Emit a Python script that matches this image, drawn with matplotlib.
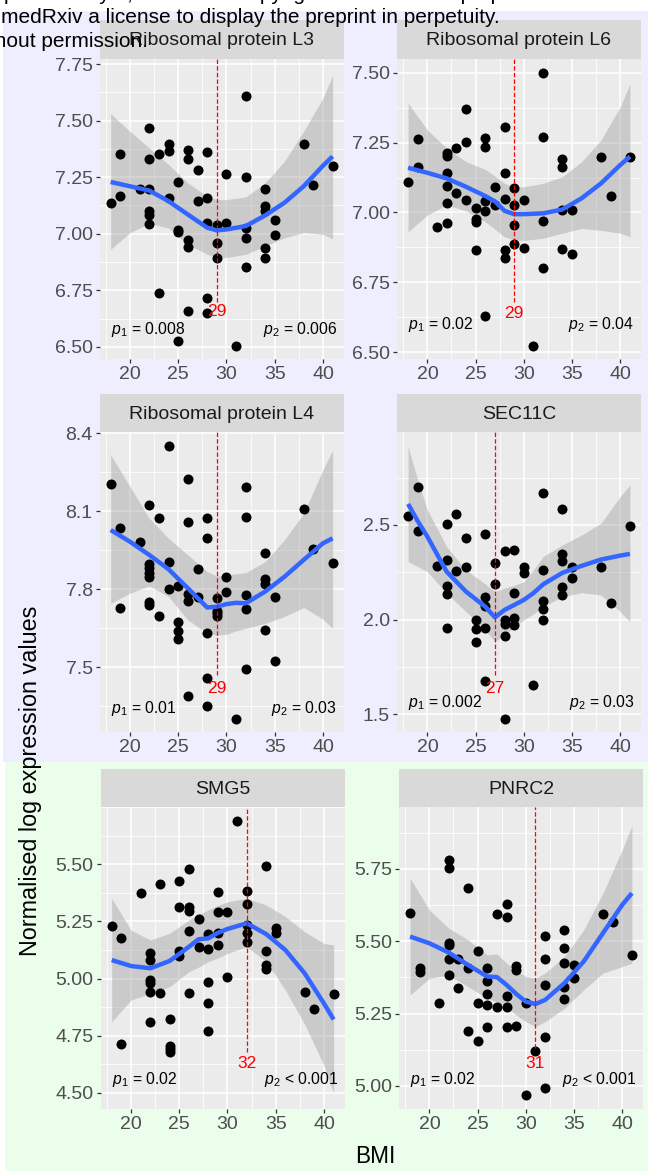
import matplotlib
matplotlib.use("Agg")
import matplotlib.pyplot as plt
from matplotlib.ticker import AutoMinorLocator
import numpy as np

plt.rcParams['font.family'] = ['Liberation Sans', 'DejaVu Sans']
plt.rcParams['mathtext.fontset'] = 'custom'
plt.rcParams['mathtext.rm'] = 'Liberation Sans'
plt.rcParams['mathtext.it'] = 'Liberation Sans:italic'

# ---- data ----
titles = ["Ribosomal protein L3", "Ribosomal protein L6", "Ribosomal protein L4",
          "SEC11C", "SMG5", "PNRC2"]

bmi_l3 = [18, 19, 19, 21, 22, 22, 22, 22, 22, 22, 23, 23, 24, 24, 24, 25, 25, 25, 25, 26, 26, 26, 26, 26,
          27, 27, 28, 28, 28, 28, 28, 29, 29, 29, 30, 30, 31, 32, 32, 32, 32, 32, 34, 34, 34, 34, 34,
          35, 35, 38, 39, 41]
expr_l3 = [7.134, 7.354, 7.166, 7.196, 7.468, 7.331, 7.199, 7.100, 7.085, 7.043, 7.354, 6.737, 7.397,
           7.365, 7.159, 7.229, 7.016, 7.009, 6.526, 7.372, 7.331, 6.972, 6.943, 6.660, 7.281, 7.144,
           7.360, 7.159, 7.046, 6.716, 6.651, 7.040, 6.957, 6.893, 7.266, 7.049, 6.504, 7.610, 7.251,
           7.024, 6.982, 6.854, 7.200, 7.122, 7.100, 6.938, 6.891, 7.063, 6.993, 7.396, 7.215, 7.299]

bmi_l6 = [18, 19, 19, 21, 22, 22, 22, 22, 22, 22, 23, 23, 24, 24, 24, 25, 25, 25, 25, 26, 26, 26, 26, 26,
          27, 27, 28, 28, 28, 28, 28, 29, 29, 29, 29, 30, 30, 31, 32, 32, 32, 32, 34, 34, 34, 34,
          35, 35, 38, 39, 41]
expr_l6 = [7.108, 7.263, 7.164, 6.949, 7.212, 7.202, 7.142, 7.096, 7.033, 6.961, 7.229, 7.069, 7.370,
           7.251, 7.045, 7.015, 6.976, 6.965, 6.866, 7.268, 7.235, 7.041, 7.007, 6.631, 7.090, 7.027,
           7.307, 7.140, 7.048, 6.866, 6.836, 7.086, 7.027, 6.955, 6.886, 7.045, 6.872, 6.523, 7.500,
           7.269, 6.971, 6.800, 7.190, 7.164, 7.009, 6.868, 7.009, 6.852, 7.197, 7.060, 7.197]

bmi_l4 = [18, 19, 19, 21, 22, 22, 22, 22, 22, 22, 22, 23, 23, 24, 24, 24, 25, 25, 25, 25, 26, 26, 26, 26,
          26, 27, 27, 28, 28, 28, 28, 28, 29, 29, 29, 29, 30, 30, 31, 32, 32, 32, 32, 32, 34, 34, 34,
          34, 35, 35, 38, 39, 41]
expr_l4 = [8.205, 8.035, 7.727, 7.981, 8.124, 7.896, 7.881, 7.864, 7.849, 7.750, 7.740, 8.076, 7.699,
           8.351, 7.906, 7.801, 7.814, 7.673, 7.641, 7.609, 8.223, 8.058, 7.782, 7.753, 7.390, 7.877,
           7.769, 8.076, 7.996, 7.631, 7.460, 7.351, 7.765, 7.718, 7.708, 7.699, 7.849, 7.791, 7.300,
           8.192, 8.077, 7.778, 7.726, 7.494, 7.938, 7.838, 7.821, 7.644, 7.769, 7.526, 8.110, 7.954,
           7.903]

bmi_sec = [18, 19, 19, 21, 22, 22, 22, 22, 22, 23, 23, 24, 24, 25, 25, 25, 26, 26, 26, 26, 26, 27, 27,
           28, 28, 28, 28, 28, 29, 29, 29, 29, 30, 30, 31, 32, 32, 32, 32, 32, 34, 34, 34, 34, 34,
           35, 35, 38, 39, 41]
expr_sec = [2.549, 2.699, 2.470, 2.283, 2.504, 2.315, 2.180, 2.136, 1.954, 2.558, 2.254, 2.430, 2.276,
            2.000, 1.949, 1.879, 2.451, 2.118, 2.074, 1.954, 1.673, 2.301, 2.187, 2.363, 1.996, 1.975,
            1.914, 1.474, 2.368, 2.143, 2.007, 1.972, 2.276, 2.245, 1.655, 2.671, 2.262, 2.100, 2.055,
            2.000, 2.586, 2.347, 2.310, 2.174, 2.130, 2.280, 2.218, 2.280, 2.090, 2.496]

bmi_smg = [18, 19, 19, 21, 22, 22, 22, 22, 22, 22, 23, 23, 24, 24, 24, 24, 25, 25, 25, 25, 26, 26, 26,
           26, 26, 27, 27, 28, 28, 28, 28, 28, 29, 29, 29, 29, 30, 30, 31, 32, 32, 32, 32, 32, 34, 34,
           34, 34, 35, 35, 38, 39, 41]
expr_smg = [5.231, 5.176, 4.713, 5.373, 5.113, 5.081, 4.993, 4.979, 4.942, 4.808, 5.412, 4.935, 4.821,
            4.704, 4.691, 4.680, 5.427, 5.315, 5.120, 5.099, 5.480, 5.315, 5.296, 5.208, 4.935, 5.259,
            5.136, 5.193, 5.129, 4.985, 4.894, 4.772, 5.380, 5.293, 5.201, 5.147, 5.293, 5.008, 5.690,
            5.383, 5.325, 5.234, 5.198, 5.161, 5.494, 5.120, 5.059, 5.042, 5.220, 5.201, 4.942, 4.866,
            4.932]

bmi_pn = [18, 19, 19, 21, 22, 22, 22, 22, 22, 22, 23, 23, 24, 24, 24, 25, 25, 25, 26, 26, 26, 26, 26,
          27, 27, 28, 28, 28, 28, 28, 29, 29, 29, 30, 30, 31, 32, 32, 32, 32, 32, 34, 34, 34, 34, 34,
          35, 35, 38, 39, 41]
expr_pn = [5.599, 5.407, 5.395, 5.288, 5.781, 5.752, 5.493, 5.487, 5.438, 5.384, 5.438, 5.340, 5.683,
           5.407, 5.191, 5.465, 5.288, 5.156, 5.407, 5.364, 5.318, 5.278, 5.202, 5.593, 5.271, 5.629,
           5.583, 5.309, 5.271, 5.205, 5.416, 5.399, 5.207, 5.288, 4.969, 5.121, 5.518, 5.438, 5.349,
           5.168, 4.992, 5.539, 5.476, 5.424, 5.341, 5.300, 5.418, 5.372, 5.593, 5.566, 5.453]

# smoothed fit with confidence band (read at a few BMI values)
sx_l3 = [18, 20, 22, 24, 26, 28, 29, 30, 32, 34, 36, 38, 40, 41]
fit_l3 = [7.229, 7.210, 7.191, 7.144, 7.085, 7.027, 7.015, 7.019, 7.034, 7.081, 7.137, 7.210, 7.301, 7.342]
hi_l3 = [7.531, 7.453, 7.379, 7.306, 7.225, 7.166, 7.151, 7.151, 7.163, 7.225, 7.320, 7.453, 7.600, 7.700]
lo_l3 = [6.931, 7.005, 7.046, 7.025, 6.953, 6.909, 6.895, 6.895, 6.909, 6.946, 6.982, 7.005, 6.997, 6.978]

sx_l6 = [18, 20, 22, 24, 26, 27, 28, 29, 30, 32, 34, 36, 38, 40, 41]
fit_l6 = [7.160, 7.142, 7.122, 7.092, 7.059, 7.040, 7.006, 6.994, 6.994, 6.997, 7.011, 7.051, 7.104, 7.170, 7.200]
hi_l6 = [7.391, 7.295, 7.230, 7.182, 7.154, 7.130, 7.104, 7.092, 7.092, 7.104, 7.128, 7.182, 7.259, 7.378, 7.460]
lo_l6 = [6.931, 6.991, 7.027, 7.006, 6.967, 6.940, 6.913, 6.902, 6.900, 6.908, 6.926, 6.943, 6.936, 6.926, 6.913]

sx_l4 = [18, 20, 22, 24, 26, 28, 29, 30, 31, 32, 34, 36, 38, 40, 41]
fit_l4 = [8.028, 7.983, 7.932, 7.877, 7.804, 7.730, 7.733, 7.743, 7.748, 7.746, 7.791, 7.848, 7.913, 7.977, 7.996]
hi_l4 = [8.317, 8.195, 8.073, 7.996, 7.932, 7.868, 7.851, 7.855, 7.860, 7.864, 7.906, 7.990, 8.092, 8.259, 8.336]
lo_l4 = [7.746, 7.785, 7.813, 7.772, 7.682, 7.631, 7.624, 7.627, 7.640, 7.650, 7.669, 7.695, 7.730, 7.685, 7.650]

sx_sec = [18, 19, 20, 22, 24, 26, 27, 28, 29, 30, 31, 32, 34, 36, 38, 40, 41]
fit_sec = [2.611, 2.520, 2.438, 2.253, 2.148, 2.068, 2.012, 2.051, 2.077, 2.104, 2.140, 2.186, 2.247,
           2.284, 2.317, 2.338, 2.347]
hi_sec = [2.914, 2.738, 2.579, 2.385, 2.262, 2.188, 2.148, 2.166, 2.180, 2.200, 2.262, 2.333, 2.394,
          2.447, 2.509, 2.650, 2.711]
lo_sec = [2.306, 2.280, 2.253, 2.139, 2.042, 1.945, 1.884, 1.919, 1.960, 1.998, 2.030, 2.068, 2.121,
          2.142, 2.130, 2.042, 1.989]

sx_smg = [18, 20, 22, 24, 26, 27, 28, 29, 30, 32, 34, 36, 38, 40, 41]
fit_smg = [5.081, 5.055, 5.045, 5.077, 5.139, 5.172, 5.176, 5.200, 5.217, 5.242, 5.195, 5.125, 5.023, 4.891, 4.821]
hi_smg = [5.351, 5.212, 5.169, 5.198, 5.256, 5.280, 5.300, 5.320, 5.336, 5.351, 5.322, 5.271, 5.205, 5.154, 5.147]
lo_smg = [4.811, 4.906, 4.935, 4.964, 5.030, 5.050, 5.074, 5.090, 5.110, 5.139, 5.075, 4.950, 4.800, 4.620, 4.500]

sx_pn = [18, 20, 22, 24, 26, 27, 28, 29, 30, 31, 32, 34, 36, 38, 40, 41]
fit_pn = [5.516, 5.493, 5.461, 5.418, 5.378, 5.376, 5.349, 5.318, 5.291, 5.283, 5.297, 5.355, 5.430,
          5.528, 5.626, 5.666]
hi_pn = [5.718, 5.608, 5.545, 5.505, 5.453, 5.456, 5.424, 5.400, 5.378, 5.372, 5.390, 5.447, 5.539,
         5.666, 5.816, 5.900]
lo_pn = [5.314, 5.372, 5.383, 5.343, 5.303, 5.290, 5.274, 5.245, 5.222, 5.205, 5.222, 5.268, 5.332,
         5.390, 5.412, 5.424]

# breakpoint (red dashed line) and its label
brk_x = [29, 29, 29, 27, 32, 31]
brk_y_end = [6.700, 6.681, 7.470, 1.708, 4.680, 5.130]
brk_label_y = [6.655, 6.637, 7.419, 1.637, 4.629, 5.078]

p1_text = ["= 0.008", "= 0.02", "= 0.01", "= 0.002", "= 0.02", "= 0.02"]
p2_text = ["= 0.006", "= 0.04", "= 0.03", "= 0.03", "< 0.001", "< 0.001"]
p_label_y = [6.578, 6.598, 7.342, 1.561, 4.556, 5.021]

yticks = [[6.50, 6.75, 7.00, 7.25, 7.50, 7.75],
          [6.50, 6.75, 7.00, 7.25, 7.50],
          [7.5, 7.8, 8.1, 8.4],
          [1.5, 2.0, 2.5],
          [4.50, 4.75, 5.00, 5.25, 5.50],
          [5.00, 5.25, 5.50, 5.75]]
ytick_fmt = ["%.2f", "%.2f", "%.1f", "%.1f", "%.2f", "%.2f"]
xticks = [20, 25, 30, 35, 40]

panels = [(bmi_l3, expr_l3, sx_l3, fit_l3, lo_l3, hi_l3),
          (bmi_l6, expr_l6, sx_l6, fit_l6, lo_l6, hi_l6),
          (bmi_l4, expr_l4, sx_l4, fit_l4, lo_l4, hi_l4),
          (bmi_sec, expr_sec, sx_sec, fit_sec, lo_sec, hi_sec),
          (bmi_smg, expr_smg, sx_smg, fit_smg, lo_smg, hi_smg),
          (bmi_pn, expr_pn, sx_pn, fit_pn, lo_pn, hi_pn)]

# ---- layout (pixels) ----
W, H = 648, 1171
# left, top(panel), right, bottom(panel), strip top
boxes = [(99.6, 59, 343.7, 359, 20),
         (397, 59, 641, 359, 20),
         (99.6, 432, 343.7, 732, 394),
         (397, 432, 641, 732, 394),
         (100.6, 807, 344.7, 1109, 769),
         (399, 807, 643, 1109, 769)]
ylims = [(6.446, 7.773), (6.476, 7.549), (7.251, 8.405), (1.406, 2.991), (4.429, 5.751), (4.920, 5.964)]
xlim = (16.85, 42.15)


def fbox(l, t, r, b):
    return [l / W, 1 - b / H, (r - l) / W, (b - t) / H]


fig = plt.figure(figsize=(W / 100, H / 100), dpi=100)

# coloured backgrounds of the two figure parts
fig.patches.append(plt.Rectangle((3 / W, 1 - 762 / H), 1, (762 - 11) / H, transform=fig.transFigure,
                                 facecolor='#EEEEFF', edgecolor='none', zorder=-10))
fig.patches.append(plt.Rectangle((5 / W, 0), 1, 1 - 762 / H, transform=fig.transFigure,
                                 facecolor='#EBFDEB', edgecolor='none', zorder=-10))

for i, (bx, by, sx, fit, lo, hi) in enumerate(panels):
    l, t, r, b, st = boxes[i]
    ax = fig.add_axes(fbox(l, t, r, b))
    ax.set_facecolor('#EBEBEB')
    ax.fill_between(sx, lo, hi, color='#999999', alpha=0.4, lw=0, zorder=2)
    ax.scatter(bx, by, s=52, color='black', lw=0, zorder=3)
    ax.plot(sx, fit, color='#3366FF', lw=3.2, zorder=4, solid_capstyle='butt', solid_joinstyle='round')
    ax.vlines(brk_x[i], brk_y_end[i], ylims[i][1], color='#FF0000', lw=0.9,
              linestyles=(0, (3.5, 1.8)), zorder=5)
    ax.text(brk_x[i], brk_label_y[i], str(brk_x[i]), color='#FF0000', fontsize=12.5,
            ha='center', va='center', zorder=6)
    ax.text(18, p_label_y[i], r'$\mathit{p_1}$ ' + p1_text[i], fontsize=11.3, ha='left', va='center', zorder=6)
    ax.text(41.45, p_label_y[i], r'$\mathit{p_2}$ ' + p2_text[i], fontsize=11.3, ha='right', va='center', zorder=6)

    ax.set_xlim(*xlim)
    ax.set_ylim(*ylims[i])
    ax.set_xticks(xticks)
    ax.set_xticklabels([str(v) for v in xticks])
    ax.set_yticks(yticks[i])
    ax.set_yticklabels([ytick_fmt[i] % v for v in yticks[i]])
    ax.xaxis.set_minor_locator(AutoMinorLocator(2))
    ax.yaxis.set_minor_locator(AutoMinorLocator(2))
    ax.tick_params(which='major', length=3, width=0.9, color='#333333', labelcolor='#4D4D4D',
                   labelsize=14, pad=2)
    ax.tick_params(which='minor', length=0)
    ax.grid(which='major', color='white', lw=1.1)
    ax.grid(which='minor', color='white', lw=0.55)
    ax.set_axisbelow(True)
    for sp in ax.spines.values():
        sp.set_visible(False)

    sax = fig.add_axes(fbox(l, st, r, t))
    sax.set_facecolor('#D9D9D9')
    sax.set_xticks([])
    sax.set_yticks([])
    for sp in sax.spines.values():
        sp.set_visible(False)
    sax.text(0.5, 0.47, titles[i], transform=sax.transAxes, ha='center', va='center',
             fontsize=14, color='#1A1A1A')

# axis titles
fig.text(37 / W, 1 - 781 / H, 'Normalised log expression values', rotation=90, rotation_mode='anchor',
         ha='center', va='baseline', fontsize=16.8, color='black')
fig.text(375 / W, 1 - 1163 / H, 'BMI', ha='center', va='baseline', fontsize=16.3, color='black')

# clipped preprint notice at the top
fig.text(531 / W, 1 - 0.5 / H, 'posted July 5, 2021. The copyright holder for this preprint',
         ha='right', va='baseline', fontsize=15, color='black', zorder=20)
fig.text(1 / W, 1 - 23.3 / H, 'medRxiv a license to display the preprint in perpetuity.',
         ha='left', va='baseline', fontsize=15, color='black', zorder=20)
fig.text(148 / W, 1 - 46.7 / H, 'without permission.',
         ha='right', va='baseline', fontsize=15, color='black', zorder=20)

fig.savefig('out.png', dpi=100)
